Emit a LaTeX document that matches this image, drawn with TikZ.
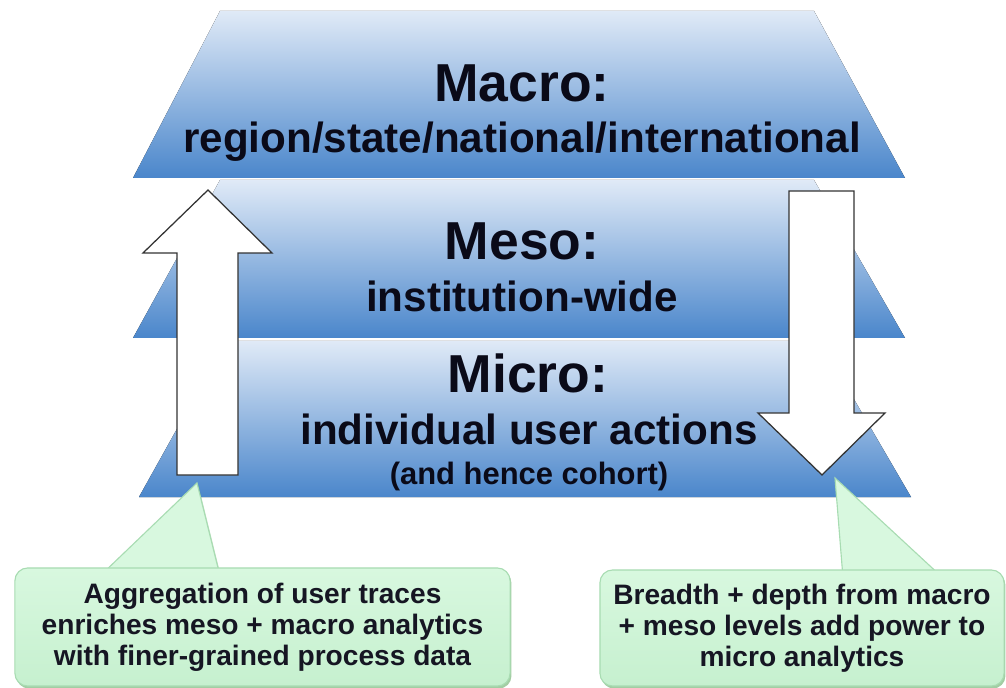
\documentclass[tikz,border=0pt]{standalone}
\usepackage{fontspec}
\setmainfont{Liberation Sans}
\usetikzlibrary{calc, shadows}
\definecolor{laytop}{HTML}{E0EAF7}
\definecolor{laymid}{HTML}{A4C2E7}
\definecolor{laybot}{HTML}{4A86CB}
\definecolor{notetop}{HTML}{D8F8DF}
\definecolor{notebot}{HTML}{C6F0CF}
\definecolor{noteline}{HTML}{A8DCB2}
\definecolor{ink}{HTML}{0A0A18}

\begin{document}
\begin{tikzpicture}[
    x=0.025cm, y=-0.025cm,
    layer/.style={top color=laytop, middle color=laymid, bottom color=laybot},
    head/.style={anchor=base, inner sep=0pt, text=ink,
        font=\fontsize{38}{40}\selectfont\bfseries},
    sub/.style={anchor=base, inner sep=0pt, text=ink,
        font=\fontsize{30}{32}\selectfont\bfseries},
    aside/.style={anchor=base, inner sep=0pt, text=ink,
        font=\fontsize{22}{24}\selectfont\bfseries},
    bigarrow/.style={draw=black!80, fill=white, line width=0.9pt, line join=miter},
    note/.style={
        rounded corners=9pt, draw=noteline, top color=notetop, bottom color=notebot,
        line width=0.8pt, align=center, inner sep=0pt, text=ink!95,
        font=\fontsize{20}{22}\selectfont\bfseries,
        drop shadow={shadow xshift=1pt, shadow yshift=-1.8pt, opacity=0.6, fill=black!55!green!60}
    },
    pointer/.style={
        draw=noteline, fill=notetop, line width=0.8pt,
        drop shadow={shadow xshift=1pt, shadow yshift=-1.6pt, opacity=0.4, fill=black!55!green!60}
    }
]

% ---- Frame of the whole picture ----
\useasboundingbox (0,0) rectangle (1006,688);

% ---- The three stacked levels ----
\fill[layer] (220,11) -- (814,11) -- (905,178) -- (133,178) -- cycle;   % macro
\fill[layer] (220,180) -- (814,180) -- (905,338) -- (133,338) -- cycle; % meso
\fill[layer] (226,341) -- (820,341) -- (911,497) -- (139,497) -- cycle; % micro

% ---- Level labels ----
\node[head] (macrot) at (522,102) {Macro:};
\node[sub]  (macros) at (522,153) {region/state/national/international};
\node[head] (mesot)  at (522,260) {Meso:};
\node[sub]  (mesos)  at (522,312) {institution-wide};
\node[head] (microt) at (528,393) {Micro:};
\node[sub]  (micros) at (529,445) {individual user actions};
\node[aside] (microc) at (529,484) {(and hence cohort)};

% ---- Block arrows: up on the left, down on the right ----
\draw[bigarrow] (177,475) -- (177,253) -- (143,253) -- (208,190)
    -- (272,253) -- (238,253) -- (238,475) -- cycle;
\draw[bigarrow] (789,191) -- (854,191) -- (854,413) -- (885,413)
    -- (822,475) -- (758,413) -- (789,413) -- cycle;

\coordinate (upfoot)   at (197,483);
\coordinate (downtip)  at (835,478);

% ---- Callouts ----
\path[pointer] (100,576) -- (upfoot) -- (220,576) -- cycle;
\node[note, minimum width=12.375cm, minimum height=2.95cm] (aggr) at (262.5,627)
    {Aggregation of user traces\\enriches meso + macro analytics\\with finer-grained process data};

\path[pointer] (843,578) -- (downtip) -- (943,578) -- cycle;
\node[note, minimum width=10.1cm, minimum height=2.9cm] (breadth) at (802,628)
    {Breadth + depth from macro\\+ meso levels add power to\\micro analytics};

\end{tikzpicture}
\end{document}
